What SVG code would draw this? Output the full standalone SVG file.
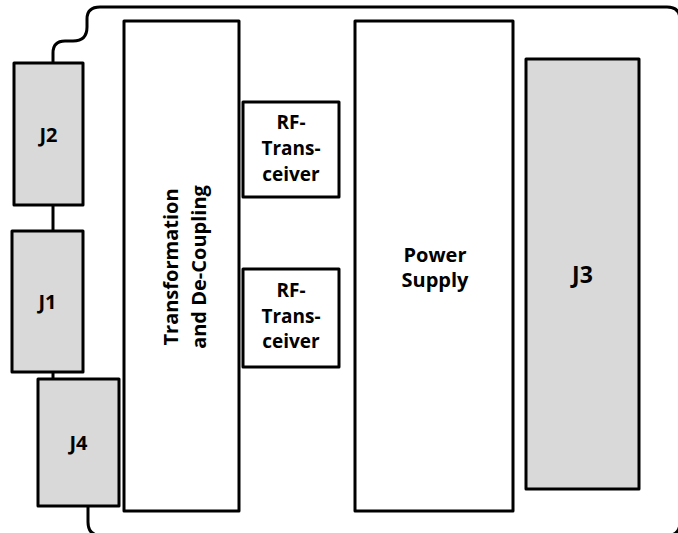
<svg xmlns="http://www.w3.org/2000/svg" width="678" height="533" viewBox="0 0 678 533">
<style>
.box{fill:#ffffff;stroke:#000;stroke-width:3;stroke-linejoin:round}
.conn{fill:#d9d9d9;stroke:#000;stroke-width:3;stroke-linejoin:round}
.line{fill:none;stroke:#000;stroke-width:3;stroke-linecap:butt;stroke-linejoin:round}
text{font-family:"Open Sans","Noto Sans","Liberation Sans",sans-serif;font-weight:bold;fill:#000;text-anchor:middle}
.rf{font-size:19px}
.big{font-size:20px}
.j{font-size:20px}
</style>
<g id="board">
<path class="line" d="M53,63 V53 Q53,41 65,41 H73 Q87,41 87,27 V19 Q87,7 100,7 H667 Q680,7 680,20 V522 Q680,535.5 667,535.5 H101 Q88,535.5 88,522 V506"/>
</g>
<g id="connectors">
<line class="line" x1="53" y1="205" x2="53" y2="231"/>
<line class="line" x1="53" y1="371" x2="53" y2="380"/>
</g>
<g id="J2">
<rect class="conn" x="14" y="63" width="69" height="142"/>
<text class="j" x="48.5" y="142">J2</text>
</g>
<g id="J1">
<rect class="conn" x="12" y="231" width="71" height="141"/>
<text class="j" x="47.5" y="309">J1</text>
</g>
<g id="J4">
<rect class="conn" x="38" y="379" width="81" height="127"/>
<text class="j" x="78.5" y="450">J4</text>
</g>
<g id="transformation">
<rect class="box" x="124" y="21" width="115" height="490"/>
<text class="big" transform="translate(178,267) rotate(-90)">Transformation</text>
<text class="big" transform="translate(206,267) rotate(-90)">and De-Coupling</text>
</g>
<g id="rf1">
<rect class="box" x="243" y="102" width="96" height="95"/>
<text class="rf" x="291" y="129">RF-</text>
<text class="rf" x="291" y="155">Trans-</text>
<text class="rf" x="291" y="181">ceiver</text>
</g>
<g id="rf2">
<rect class="box" x="243" y="269" width="96" height="98"/>
<text class="rf" x="291" y="297">RF-</text>
<text class="rf" x="291" y="323">Trans-</text>
<text class="rf" x="291" y="348">ceiver</text>
</g>
<g id="power">
<rect class="box" x="355" y="21" width="158" height="490"/>
<text class="big" x="435" y="262">Power</text>
<text class="big" x="435" y="287">Supply</text>
</g>
<g id="J3">
<rect class="conn" x="526" y="59" width="113" height="430"/>
<text style="font-size:23px" x="582.5" y="283">J3</text>
</g>
</svg>
